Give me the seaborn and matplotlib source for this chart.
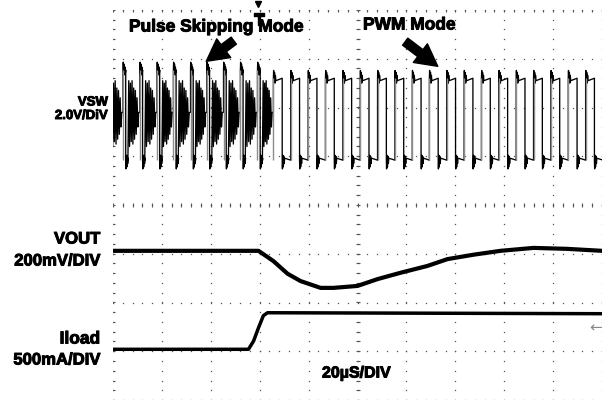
import numpy as np
import pandas as pd
import matplotlib
matplotlib.use("Agg")
import matplotlib.pyplot as plt
import matplotlib.patheffects as pe
import seaborn as sns

# scope screen: time in us (20 us/div, trigger at 0), level in divisions (8 div tall)
PS_RISE_US = [-102.8, -95.9, -89.0, -82.0, -75.3, -68.3, -61.6, -54.8, -47.9, -40.9]
PWM_RISE_US = [-34.4, -27.3, -20.2, -13.1, -6.0, 1.1, 8.2, 15.3, 22.4, 29.4,
               36.5, 43.6, 50.7, 57.8, 64.9, 72.0, 79.1, 86.2, 93.3, 100.4]
VSW_PS_HIGH = 2.77
VSW_PWM_HIGH = 2.6
VSW_LOW = 0.92
PS_ON_US = 1.1
PS_LOW_US = 0.9
PWM_ON_US = 3.6
BLOB_US = 1.1
PS_RING = [2.55, 1.2, 2.5, 1.3, 2.55, 1.25, 2.4, 1.35, 2.35, 1.45, 2.2, 1.6, 1.9]
HI_BLOB = [0.16, -0.08, 0.12, -0.1, 0.06, -0.05]
LO_BLOB = [-0.18, 0.1, -0.14, 0.08, -0.07, 0.04]

VOUT_T = [-100.0, -40.5, -34.4, -28.6, -23.3, -15.1, -9.8, 0.0, 8.2, 17.6,
          28.6, 36.8, 47.4, 58.5, 72.0, 85.9, 100.0]
VOUT_V = [-0.94, -0.94, -1.15, -1.41, -1.56, -1.70, -1.70, -1.66, -1.52, -1.39,
          -1.25, -1.11, -1.02, -0.94, -0.88, -0.90, -0.94]

ILOAD_T = [-100.0, -44.6, -42.5, -40.5, -38.5, -36.8, 100.0]
ILOAD_V = [-2.96, -2.96, -2.79, -2.52, -2.27, -2.21, -2.23]

TRIG_T = -40.5


def blob(t0, level, offsets):
    step = BLOB_US / len(offsets)
    return [(t0 + step * (i + 0.5), level + d) for i, d in enumerate(offsets)]


def build_vsw():
    pts = []
    nxt_list = PS_RISE_US[1:] + [PWM_RISE_US[0]]
    for r, n in zip(PS_RISE_US, nxt_list):
        pts.append((r, PS_RING[-1]))
        pts.append((r, VSW_PS_HIGH))
        pts += blob(r, VSW_PS_HIGH, HI_BLOB)
        f = r + PS_ON_US
        pts.append((f, VSW_PS_HIGH))
        pts.append((f, VSW_LOW))
        pts += blob(f, VSW_LOW, LO_BLOB)
        s = f + PS_LOW_US
        pts.append((s, VSW_LOW))
        e = n - 0.5
        k = len(PS_RING)
        for j, lv in enumerate(PS_RING):
            pts.append((s + (e - s) * (j + 1) / k, lv))
    pts.append((PWM_RISE_US[0], PS_RING[-1]))
    for i, r in enumerate(PWM_RISE_US):
        if i > 0:
            pts.append((r, VSW_LOW))
        pts.append((r, VSW_PWM_HIGH))
        pts += blob(r, VSW_PWM_HIGH, HI_BLOB)
        f = r + PWM_ON_US
        pts.append((f, VSW_PWM_HIGH))
        pts.append((f, VSW_LOW))
        pts += blob(f, VSW_LOW, LO_BLOB)
    return pd.DataFrame(pts, columns=["t", "v"])


sns.set_style("white")
plt.rcParams["font.family"] = ["Liberation Sans", "DejaVu Sans"]

W, H = 602, 400
fig = plt.figure(figsize=(6.02, 4.0), dpi=100)
fig.patch.set_facecolor("white")
ax = fig.add_axes([113 / W, 0, 489 / W, 390 / H])
ax.axis("off")

# graticule
gcol = "#555555"
sub_x = np.arange(-100, 100.01, 4)
sub_y = np.arange(-4, 4.01, 0.2)
for gx in np.arange(-100, 101, 20):
    ax.plot(np.full_like(sub_y, gx), sub_y, ls="none", marker="s", ms=0.9, color=gcol, mew=0)
for gy in np.arange(-4, 5, 1):
    ax.plot(sub_x, np.full_like(sub_x, gy), ls="none", marker="s", ms=0.9, color=gcol, mew=0)
for gx in (-100, 0):
    ax.plot(np.full_like(sub_y, gx), sub_y, ls="none", marker="_", ms=3.5, mew=0.8, color=gcol)
for gy in (4, 0):
    ax.plot(sub_x, np.full_like(sub_x, gy), ls="none", marker="|", ms=3.5, mew=0.8, color=gcol)

# traces
vsw = build_vsw()
sns.lineplot(data=vsw, x="t", y="v", ax=ax, sort=False, estimator=None,
             color="black", lw=0.95)
ax.vlines(PWM_RISE_US, VSW_LOW, VSW_PWM_HIGH, color="#8c8c8c", lw=1.0, zorder=3)
ax.vlines(PS_RISE_US, VSW_LOW, VSW_PS_HIGH, color="#8c8c8c", lw=1.0, zorder=3)

vout = pd.DataFrame({"t": VOUT_T, "v": VOUT_V})
sns.lineplot(data=vout, x="t", y="v", ax=ax, sort=False, estimator=None,
             color="black", lw=3.0)
iload = pd.DataFrame({"t": ILOAD_T, "v": ILOAD_V})
sns.lineplot(data=iload, x="t", y="v", ax=ax, sort=False, estimator=None,
             color="black", lw=2.5)

# trigger markers above the VSW trace
ax.plot([TRIG_T], [4.12], marker="v", ms=4.5, color="black", clip_on=False)
ax.plot([TRIG_T + 0.2], [3.82], marker=r"$\mathbf{T}$", ms=8, color="black", clip_on=False)
ax.set_xlim(-100, 100)
ax.set_ylim(-4, 4)


def px(x, y):
    return x / W, 1 - y / H


heavy = [pe.withStroke(linewidth=0.7, foreground="black")]
bold = dict(fontweight="bold", color="black", path_effects=heavy)
fig.text(*px(108, 102.5), "VSW", ha="right", va="center", fontsize=9.5, **bold)
fig.text(*px(108, 116), "2.0V/DiV", ha="right", va="center", fontsize=9.5, **bold)
fig.text(*px(100, 239), "VOUT", ha="right", va="center", fontsize=12, **bold)
fig.text(*px(100, 261), "200mV/DIV", ha="right", va="center", fontsize=12, **bold)
fig.text(*px(100, 339), "Iload", ha="right", va="center", fontsize=12.5, **bold)
fig.text(*px(100, 360), "500mA/DIV", ha="right", va="center", fontsize=12, **bold)
fig.text(*px(322, 373), "20µS/DIV", ha="left", va="center", fontsize=11.5, **bold)
fig.text(*px(129, 27), "Pulse Skipping Mode", ha="left", va="center", fontsize=12.5, **bold)
fig.text(*px(363, 25), "PWM Mode", ha="left", va="center", fontsize=12.5, **bold)
fig.text(*px(596, 328), "←", ha="center", va="center", fontsize=11,
         family="DejaVu Sans", color="#888888")

arrow = dict(arrowstyle="simple,head_width=0.8,head_length=0.75,tail_width=0.3",
             color="black", mutation_scale=21)
ax.annotate("", xy=(204, H - 63), xytext=(236, H - 39), xycoords="figure pixels",
            textcoords="figure pixels", arrowprops=arrow)
ax.annotate("", xy=(440, H - 68), xytext=(403, H - 40), xycoords="figure pixels",
            textcoords="figure pixels", arrowprops=arrow)

fig.savefig("out.png", dpi=100, facecolor="white")
